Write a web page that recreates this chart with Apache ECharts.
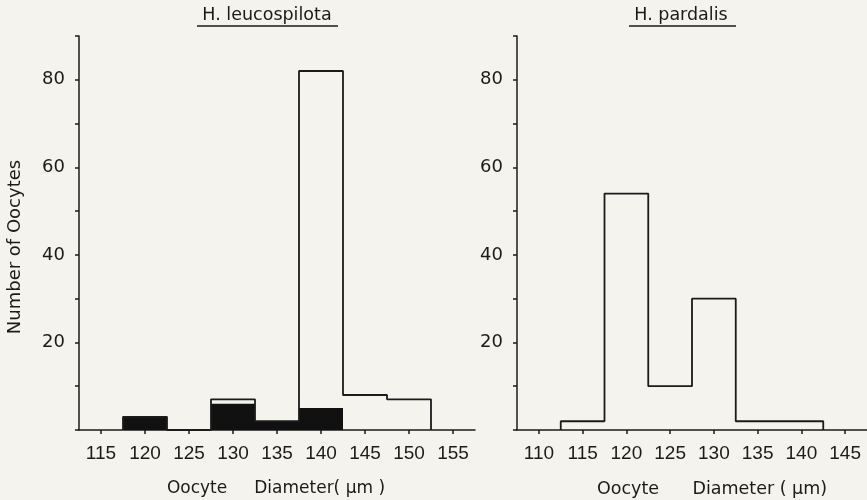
<!DOCTYPE html>
<html>
<head>
<meta charset="utf-8">
<script src="https://cdn.jsdelivr.net/npm/echarts@6/dist/echarts.min.js"></script>
<style>
  html, body { margin: 0; padding: 0; background: #f5f3ee; }
  #chart { width: 867px; height: 500px; }
</style>
</head>
<body>
<div id="chart"></div>
<script>
// H. leucospilota: bin edges, total counts (outline) and black part
const leucoEdges = [117.5, 122.5, 127.5, 132.5, 137.5, 142.5, 147.5, 152.5]
const leucoTotal = [3, 0, 7, 2, 82, 8, 7]
const leucoBlack = [3, 0, 6, 2, 5, 0, 0]
const leucoTicks = [115, 120, 125, 130, 135, 140, 145, 150, 155]

// H. pardalis
const pardEdges = [112.5, 117.5, 122.5, 127.5, 132.5, 137.5, 142.5]
const pardTotal = [2, 54, 10, 30, 2, 2]
const pardTicks = [110, 115, 120, 125, 130, 135, 140, 145]

const yLabels = [20, 40, 60, 80]

const ink = '#1b1b1b'
const tickFont = "'Liberation Sans Narrow', 'Liberation Sans', sans-serif"
const textFont = "'DejaVu Sans', sans-serif"

// step outline of a histogram, from bin edges and counts
function outline(edges, counts) {
  const pts = [[edges[0], 0]]
  counts.forEach((c, i) => {
    pts.push([edges[i], c], [edges[i + 1], c])
  })
  pts.push([edges[edges.length - 1], 0])
  return pts
}

function blocks(edges, counts) {
  return counts.map((c, i) => [edges[i], edges[i + 1], c]).filter(d => d[2] > 0)
}

function xAxis(idx, min, max, ticks) {
  return {
    type: 'value',
    gridIndex: idx,
    min: min,
    max: max,
    splitLine: { show: false },
    axisLine: { lineStyle: { color: ink, width: 1.5 } },
    axisTick: { length: 4, lineStyle: { color: ink, width: 1.5 }, customValues: ticks },
    axisLabel: { customValues: ticks, color: ink, fontFamily: tickFont, fontSize: 19, margin: 14 }
  }
}

function yAxis(idx) {
  return {
    type: 'value',
    gridIndex: idx,
    min: 0,
    max: 90,
    interval: 10,
    splitLine: { show: false },
    axisLine: { show: true, lineStyle: { color: ink, width: 1.5 } },
    axisTick: { show: true, length: 4, lineStyle: { color: ink, width: 1.5 } },
    axisLabel: {
      color: ink, fontFamily: textFont, fontSize: 18, margin: 14,
      formatter: v => (yLabels.includes(v) ? String(v) : '')
    }
  }
}

function fillSeries(idx, edges, counts) {
  return {
    type: 'custom',
    xAxisIndex: idx,
    yAxisIndex: idx,
    z: 1,
    encode: { x: [0, 1], y: 2 },
    data: blocks(edges, counts),
    renderItem: (params, api) => {
      const p0 = api.coord([api.value(0), api.value(2)])
      const p1 = api.coord([api.value(1), 0])
      return {
        type: 'rect',
        shape: { x: p0[0], y: p0[1], width: p1[0] - p0[0], height: p1[1] - p0[1] },
        style: { fill: '#111111' }
      }
    }
  }
}

function outlineSeries(idx, edges, counts) {
  return {
    type: 'line',
    xAxisIndex: idx,
    yAxisIndex: idx,
    z: 3,
    symbol: 'none',
    silent: true,
    lineStyle: { color: ink, width: 1.8 },
    data: outline(edges, counts)
  }
}

const chart = echarts.init(document.getElementById('chart'))
chart.setOption({
  backgroundColor: '#f5f3ee',
  animation: false,
  grid: [
    { left: 79, top: 36, width: 396, height: 394 },
    { left: 517, top: 36, width: 350, height: 394 }
  ],
  xAxis: [xAxis(0, 112.5, 157.5, leucoTicks), xAxis(1, 107.5, 147.5, pardTicks)],
  yAxis: [yAxis(0), yAxis(1)],
  series: [
    fillSeries(0, leucoEdges, leucoBlack),
    outlineSeries(0, leucoEdges, leucoTotal),
    outlineSeries(1, pardEdges, pardTotal)
  ],
  graphic: [
    { type: 'text', x: 267, y: 15, style: { text: 'H. leucospilota', font: "17.5px 'DejaVu Sans'", fill: ink, align: 'center', verticalAlign: 'middle' } },
    { type: 'line', shape: { x1: 197, y1: 26, x2: 338, y2: 26 }, style: { stroke: ink, lineWidth: 1.5 } },
    { type: 'text', x: 681, y: 15, style: { text: 'H. pardalis', font: "17.5px 'DejaVu Sans'", fill: ink, align: 'center', verticalAlign: 'middle' } },
    { type: 'line', shape: { x1: 629, y1: 26, x2: 736, y2: 26 }, style: { stroke: ink, lineWidth: 1.5 } },
    { type: 'text', x: 15, y: 247, rotation: Math.PI / 2, style: { text: 'Number of Oocytes', font: "18px 'DejaVu Sans'", fill: ink, align: 'center', verticalAlign: 'middle' } },
    { type: 'text', x: 276, y: 489, style: { text: 'Oocyte     Diameter( μm )', font: "17px 'DejaVu Sans'", fill: ink, align: 'center', verticalAlign: 'middle' } },
    { type: 'text', x: 712, y: 489, style: { text: 'Oocyte      Diameter ( μm)', font: "17.5px 'DejaVu Sans'", fill: ink, align: 'center', verticalAlign: 'middle' } }
  ]
})
</script>
</body>
</html>
